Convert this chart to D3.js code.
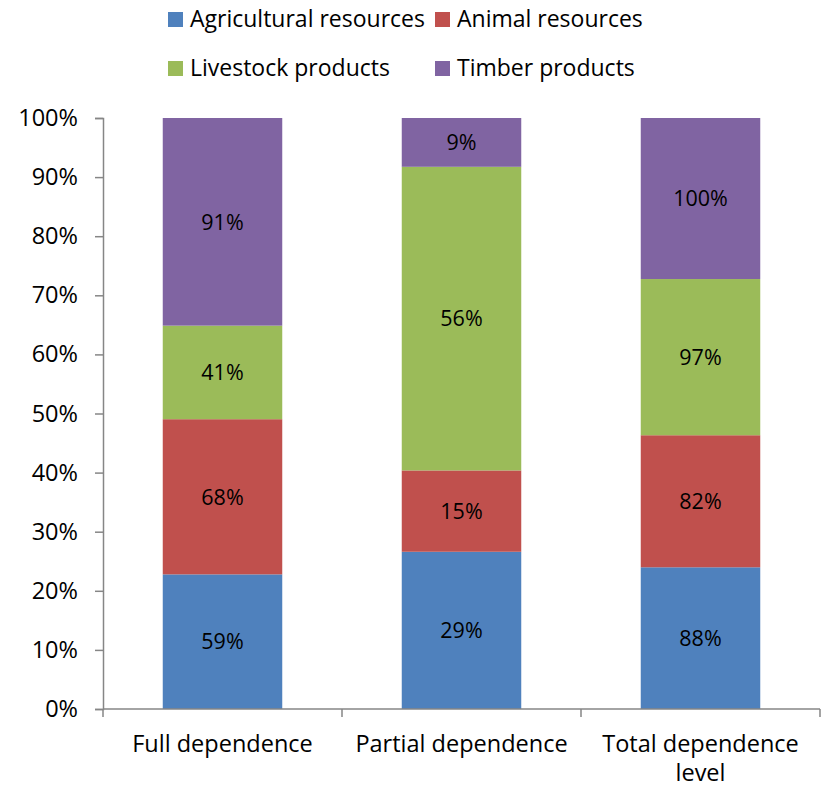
<!DOCTYPE html>
<html>
<head>
<meta charset="utf-8">
<script src="https://cdn.jsdelivr.net/npm/d3@7"></script>
<style>
  body { margin: 0; background: #fff; }
  text { font-family: "Open Sans", Lato, sans-serif; fill: #000; }
</style>
</head>
<body>
<svg id="chart" width="825" height="787"></svg>
<script>
// Categories and raw values for each resource type
const categories = ["Full dependence", "Partial dependence", "Total dependence level"];
const seriesNames = ["Agricultural resources", "Animal resources", "Livestock products", "Timber products"];
const agricultural = [59, 29, 88];
const animal = [68, 15, 82];
const livestock = [41, 56, 97];
const timber = [91, 9, 100];
const colors = ["#4f81bd", "#c0504d", "#9bbb59", "#8064a2"];
const yTicks = [0, 0.1, 0.2, 0.3, 0.4, 0.5, 0.6, 0.7, 0.8, 0.9, 1.0];

const seriesValues = [agricultural, animal, livestock, timber];
const rows = categories.map((c, i) => {
  const r = { category: c };
  seriesNames.forEach((s, j) => r[s] = seriesValues[j][i]);
  return r;
});

const svg = d3.select("#chart");
const margin = { left: 103, right: 5, top: 118, bottom: 78 };
const W = 825, H = 787;
const FONT = "'Open Sans', Lato, sans-serif";

const x = d3.scaleBand().domain(categories).range([margin.left, W - margin.right]).paddingInner(0.5).paddingOuter(0.25);
const y = d3.scaleLinear().domain([0, 1]).range([H - margin.bottom, margin.top]);

const stack = d3.stack().keys(seriesNames).offset(d3.stackOffsetExpand);
const layers = stack(rows);

// Bars with value labels
const g = svg.append("g");
layers.forEach((layer, li) => {
  g.selectAll(null).data(layer).enter().append("rect")
    .attr("x", d => x(d.data.category))
    .attr("width", x.bandwidth())
    .attr("y", d => y(d[1]))
    .attr("height", d => y(d[0]) - y(d[1]))
    .attr("fill", colors[li]);
  g.selectAll(null).data(layer).enter().append("text")
    .attr("x", d => x(d.data.category) + x.bandwidth() / 2)
    .attr("y", d => (y(d[0]) + y(d[1])) / 2)
    .attr("dy", "0.36em")
    .attr("text-anchor", "middle")
    .attr("font-size", 21.5)
    .text(d => d.data[layer.key] + "%");
});

// Y axis
const yAxis = d3.axisLeft(y).tickValues(yTicks).tickFormat(d3.format(".0%")).tickSize(8).tickPadding(17);
const ya = svg.append("g").attr("transform", `translate(${margin.left},0)`).call(yAxis);
ya.select(".domain").attr("stroke", "#868686").attr("stroke-width", 1.5);
ya.selectAll(".tick line").attr("stroke", "#868686").attr("stroke-width", 1.5);
ya.selectAll(".tick text").attr("font-size", 23.5).attr("font-family", FONT).attr("fill", "#000");

// X axis baseline with boundary ticks between categories
const xa = svg.append("g");
const baseY = y(0);
xa.append("line").attr("x1", margin.left).attr("x2", W - margin.right)
  .attr("y1", baseY).attr("y2", baseY).attr("stroke", "#868686").attr("stroke-width", 1.5);
const bounds = d3.range(categories.length + 1).map(i => x.range()[0] + i * (x.range()[1] - x.range()[0]) / categories.length);
xa.selectAll(null).data(bounds).enter().append("line")
  .attr("x1", d => d).attr("x2", d => d)
  .attr("y1", baseY).attr("y2", baseY + 8)
  .attr("stroke", "#868686").attr("stroke-width", 1.5);

// Category labels (wrapped)
const catLines = { "Total dependence level": ["Total dependence", "level"] };
categories.forEach(c => {
  const lines = catLines[c] || [c];
  const t = svg.append("text")
    .attr("x", x(c) + x.bandwidth() / 2)
    .attr("y", baseY + 43)
    .attr("text-anchor", "middle")
    .attr("font-size", 23.5);
  lines.forEach((l, i) => t.append("tspan").attr("x", x(c) + x.bandwidth() / 2).attr("dy", i === 0 ? 0 : 29).text(l));
});

// Legend
const legendPos = [[168, 12], [435, 12], [168, 61], [435, 61]];
seriesNames.forEach((s, i) => {
  const [lx, ly] = legendPos[i];
  svg.append("rect").attr("x", lx).attr("y", ly).attr("width", 15).attr("height", 15).attr("fill", colors[i]);
  svg.append("text").attr("x", lx + 22).attr("y", ly + 15).attr("font-size", 23).text(s);
});
</script>
</body>
</html>
